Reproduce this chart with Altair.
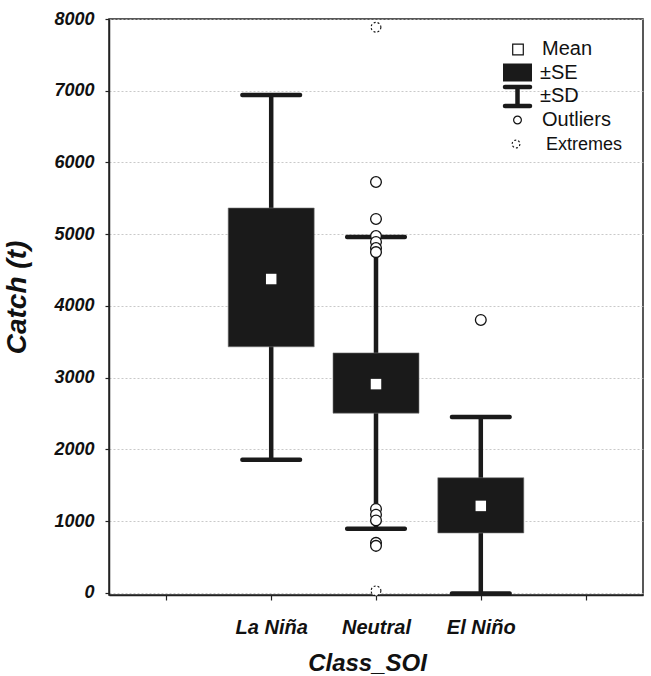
import altair as alt
import pandas as pd

# ---- data ----
classes = ["La Niña", "Neutral", "El Niño"]
slots = [2, 3, 4]                 # category slot on the x axis (1..5 shown as ticks)
means = [4375, 2910, 1212]
se_lo = [3430, 2505, 835]
se_hi = [5365, 3345, 1605]
sd_lo = [1855, 895, -10]
sd_hi = [6940, 4962, 2452]

outlier_class = ["Neutral"] * 11 + ["El Niño"]
outlier_vals = [5728, 5213, 4975, 4892, 4808, 4750, 1170, 1090, 1010, 697, 655, 3805]

extreme_class = ["Neutral", "Neutral"]
extreme_vals = [7885, 28]

y_ticks = [0, 1000, 2000, 3000, 4000, 5000, 6000, 7000, 8000]
x_ticks = [1, 2, 3, 4, 5]

FONT = "Liberation Sans"
INK = "#1a1a1a"

slot_of = dict(zip(classes, slots))
stats = pd.DataFrame({"cls": classes, "x": slots, "mean": means,
                      "se_lo": se_lo, "se_hi": se_hi, "sd_lo": sd_lo, "sd_hi": sd_hi})
outl = pd.DataFrame({"x": [slot_of[c] for c in outlier_class], "v": outlier_vals})
extr = pd.DataFrame({"x": [slot_of[c] for c in extreme_class], "v": extreme_vals})

label_expr = " : ".join(f"datum.value == {s} ? '{c}'" for s, c in zip(slots, classes)) + " : ''"

xscale = alt.Scale(domain=[0.5, 5.5], nice=False, zero=False)
yscale = alt.Scale(domain=[-30, 8000], nice=False, zero=False)

xaxis = alt.Axis(values=x_ticks, labelExpr=label_expr, grid=False, title="Class_SOI",
                 labelFont=FONT, labelFontSize=20, labelFontWeight="bold", labelFontStyle="italic",
                 labelColor="#111", labelPadding=17, tickSize=5, tickColor="#222", tickWidth=1.2,
                 domainColor="#222", domainWidth=1.5,
                 titleFont=FONT, titleFontSize=24, titleFontWeight="bold", titleFontStyle="italic",
                 titleColor="#111", titlePadding=14, titleX=258)
yaxis = alt.Axis(values=y_ticks, format="d", grid=True, gridColor="#bbbbbb", gridDash=[2, 2],
                 gridWidth=0.8, title="Catch (t)",
                 labelFont=FONT, labelFontSize=18, labelFontWeight="bold", labelFontStyle="italic",
                 labelColor="#111", labelPadding=11, tickSize=4, tickColor="#222", tickWidth=1.2,
                 domainColor="#222", domainWidth=1.5,
                 titleFont=FONT, titleFontSize=28, titleFontWeight="bold", titleFontStyle="italic",
                 titleColor="#111", titleX=-78, titleY=278)

base = alt.Chart(stats)
X = alt.X("x:Q", scale=xscale, axis=xaxis)

whisk = base.mark_rule(color=INK, strokeWidth=4.5).encode(
    x=X, y=alt.Y("sd_lo:Q", scale=yscale, axis=yaxis), y2="sd_hi:Q")
cap_hi = base.mark_tick(orient="horizontal", size=62, thickness=4.5, color=INK, opacity=1,
                        cornerRadius=2).encode(
    x=alt.X("x:Q", scale=xscale), y=alt.Y("sd_hi:Q", scale=yscale))
cap_lo = base.mark_tick(orient="horizontal", size=62, thickness=4.5, color=INK, opacity=1,
                        cornerRadius=2).encode(
    x=alt.X("x:Q", scale=xscale), y=alt.Y("sd_lo:Q", scale=yscale))
box = base.mark_bar(size=86, color=INK, stroke="#777", strokeWidth=0.6, opacity=1).encode(
    x=alt.X("x:Q", scale=xscale), y=alt.Y("se_lo:Q", scale=yscale), y2="se_hi:Q")
mean_pt = base.mark_square(size=110, color="white", opacity=1).encode(
    x=alt.X("x:Q", scale=xscale), y=alt.Y("mean:Q", scale=yscale))

out_pts = alt.Chart(outl).mark_point(shape="circle", size=115, filled=False, fill="white",
                                     fillOpacity=1, stroke="#111", strokeWidth=1.3, opacity=1).encode(
    x=alt.X("x:Q", scale=xscale), y=alt.Y("v:Q", scale=yscale))
ext_pts = alt.Chart(extr).mark_point(shape="circle", size=95, filled=False, fill="white",
                                     fillOpacity=1, stroke="#111", strokeWidth=1.1,
                                     strokeDash=[2, 2], opacity=1).encode(
    x=alt.X("x:Q", scale=xscale), y=alt.Y("v:Q", scale=yscale))

# ---- legend (drawn by hand, pixel placement) ----
leg_src = alt.Chart(pd.DataFrame({"k": [0]}))
lg_mean = leg_src.mark_square(size=112, filled=False, stroke="#111", strokeWidth=1.2, opacity=1).encode(
    x=alt.value(409), y=alt.value(30.5))
lg_se = leg_src.mark_rect(color=INK).encode(
    x=alt.value(394), x2=alt.value(423), y=alt.value(44.5), y2=alt.value(62.5))
lg_sd_stem = leg_src.mark_rule(color=INK, strokeWidth=4.5).encode(
    x=alt.value(408.5), y=alt.value(68), y2=alt.value(87))
lg_sd_top = leg_src.mark_rule(color=INK, strokeWidth=4.5, strokeCap="round").encode(
    x=alt.value(396), x2=alt.value(421), y=alt.value(68))
lg_sd_bot = leg_src.mark_rule(color=INK, strokeWidth=4.5, strokeCap="round").encode(
    x=alt.value(396), x2=alt.value(421), y=alt.value(87))
lg_out = leg_src.mark_point(shape="circle", size=60, filled=False, stroke="#111", strokeWidth=1.2,
                            opacity=1).encode(x=alt.value(408.5), y=alt.value(101))
lg_ext = leg_src.mark_point(shape="circle", size=60, filled=False, stroke="#111", strokeWidth=1.1,
                            strokeDash=[2, 2], opacity=1).encode(x=alt.value(407), y=alt.value(125))

leg_texts = []
for txt, lx, ly, fs in [("Mean", 433, 30, 20), ("±SE", 431, 54, 20), ("±SD", 431, 77, 20),
                        ("Outliers", 433, 101, 20), ("Extremes", 437, 125.5, 18)]:
    leg_texts.append(leg_src.mark_text(align="left", baseline="middle", font=FONT, fontSize=fs,
                                       color="#111").encode(
        x=alt.value(lx), y=alt.value(ly), text=alt.value(txt)))

chart = alt.layer(whisk, cap_hi, cap_lo, box, mean_pt, out_pts, ext_pts,
                  lg_mean, lg_se, lg_sd_stem, lg_sd_top, lg_sd_bot, lg_out, lg_ext,
                  *leg_texts).properties(
    width=534, height=576,
    autosize=alt.AutoSizeParams(type="none"),
    padding={"left": 109, "top": 19, "right": 8, "bottom": 81},
    background="white",
).configure_view(stroke="#222", strokeWidth=1.5)

chart.save("out.html", embed_options={"renderer": "svg", "actions": False})
